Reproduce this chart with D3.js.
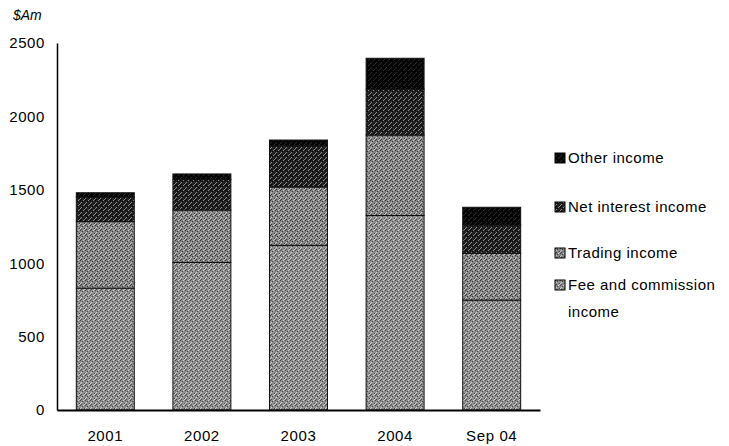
<!DOCTYPE html>
<html><head><meta charset="utf-8">
<script src="https://cdn.jsdelivr.net/npm/d3@7"></script>
<style>
body{margin:0;background:#fff;}
svg text{font-family:"Liberation Sans",Arial,sans-serif;fill:#000;}
</style></head>
<body><svg id="c" width="729" height="446"></svg>
<script>
const categories = ["2001","2002","2003","2004","Sep 04"];
const feeIncome = [830, 1005, 1122, 1325, 749];
const tradingIncome = [453, 357, 397, 548, 318];
const netInterestIncome = [167, 208, 281, 312, 193];
const otherIncome = [30, 38, 39, 211, 121];
const yTicks = [0, 500, 1000, 1500, 2000, 2500];
const seriesNames = ["Fee and commission income","Trading income","Net interest income","Other income"];
const legendOrder = ["Other income","Net interest income","Trading income","Fee and commission income"];

const svg = d3.select("#c");
const defs = svg.append("defs");
const fills = {
  "Fee and commission income": ["#8e8e8e","#4a4a4a","#d0d0d0"],
  "Trading income": ["#858585","#3a3a3a","#c8c8c8"],
  "Net interest income": ["#222","#000","#8a8a8a"],
  "Other income": ["#060606","#000","#2a2a2a"]
};
seriesNames.forEach((n,i)=>{
  const p = defs.append("pattern").attr("id","p"+i).attr("patternUnits","userSpaceOnUse")
    .attr("width",5).attr("height",5);
  const c = fills[n];
  p.append("rect").attr("width",5).attr("height",5).attr("fill",c[0]);
  [[0,0],[2,1],[4,3],[1,4]].forEach(q=>p.append("rect").attr("x",q[0]).attr("y",q[1]).attr("width",1).attr("height",1).attr("fill",c[1]));
  [[3,0],[1,2],[4,4],[0,3]].forEach(q=>p.append("rect").attr("x",q[0]).attr("y",q[1]).attr("width",1).attr("height",1).attr("fill",c[2]));
});

const x = d3.scaleBand().domain(categories).range([57,540]).paddingInner(0.4).paddingOuter(0.2);
const y = d3.scaleLinear().domain([0,2500]).range([410,43]);

const rows = categories.map((c,i)=>({cat:c,
  "Fee and commission income":feeIncome[i],
  "Trading income":tradingIncome[i],
  "Net interest income":netInterestIncome[i],
  "Other income":otherIncome[i]}));
const stack = d3.stack().keys(seriesNames)(rows);

stack.forEach((s,si)=>{
  svg.append("g").selectAll("rect").data(s).join("rect")
    .attr("x",d=>x(d.data.cat)).attr("width",x.bandwidth())
    .attr("y",d=>y(d[1])).attr("height",d=>y(d[0])-y(d[1]))
    .attr("fill","url(#p"+si+")").attr("stroke","#111").attr("stroke-width",1);
});

// axes
const yAxis = svg.append("g").attr("transform","translate(57,0)")
  .call(d3.axisLeft(y).tickValues(yTicks).tickSize(0).tickPadding(12).tickFormat(d3.format("d")));
yAxis.select(".domain").attr("stroke","#000").attr("stroke-width",1.5);
yAxis.selectAll("text").attr("font-size",15).style("letter-spacing","0.6px").attr("fill","#000");

const xAxis = svg.append("g").attr("transform","translate(0,410)")
  .call(d3.axisBottom(x).tickSize(0).tickPadding(20));
xAxis.select(".domain").attr("stroke","#000").attr("stroke-width",2);
xAxis.selectAll("text").attr("font-size",15).style("letter-spacing","0.6px").attr("fill","#000");

svg.append("text").attr("x",13).attr("y",20).attr("font-size",14).attr("font-style","italic")
  .text("$Am");

// legend
const legY = {"Other income":158,"Net interest income":207,"Trading income":253,"Fee and commission income":285};
legendOrder.forEach(n=>{
  const si = seriesNames.indexOf(n);
  const g = svg.append("g").attr("transform",`translate(555,${legY[n]})`);
  g.append("rect").attr("x",0).attr("y",-5).attr("width",10).attr("height",10)
    .attr("fill","url(#p"+si+")").attr("stroke","#000");
  const t = (txt,dy)=>g.append("text").attr("x",13).attr("y",dy).attr("font-size",15)
    .style("letter-spacing","0.5px").text(txt);
  if (n==="Fee and commission income"){ t("Fee and commission",5); t("income",32); }
  else t(n,5);
});
</script></body></html>
